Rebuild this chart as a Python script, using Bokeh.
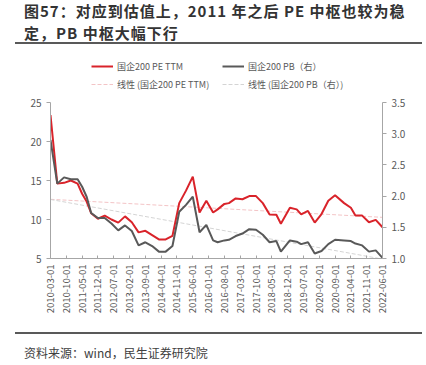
import math
import numpy as np
from bokeh.plotting import figure
from bokeh.layouts import column
from bokeh.models import (Range1d, LinearAxis, FixedTicker, NumeralTickFormatter,
                          Legend, LegendItem, Div)
from bokeh.embed import file_html
from bokeh.resources import INLINE

# ---- data (month offsets from 2010-03) ----
months = [0, 3, 6, 9, 12, 14, 16, 18, 21, 24, 27, 30, 33, 36, 39, 42, 45, 48, 51, 54,
          57, 60, 63, 66, 69, 72, 74, 77, 79, 82, 85, 88, 91, 94, 97, 100, 102, 106,
          109, 111, 114, 117, 120, 123, 126, 130, 133, 135, 138, 141, 144, 147]
pe_ttm = [23.4, 14.6, 14.7, 15.0, 14.6, 13.3, 12.3, 10.8, 10.1, 10.5, 10.0, 9.6, 10.4,
          9.65, 8.35, 8.55, 8.0, 7.45, 7.45, 7.9, 12.1, 13.7, 15.5, 10.9, 12.4, 10.9,
          11.3, 12.0, 12.1, 12.7, 12.6, 13.0, 13.0, 12.1, 10.65, 10.6, 9.45, 11.5, 11.3,
          10.65, 11.1, 9.6, 10.7, 12.4, 13.1, 12.1, 11.5, 10.5, 10.5, 9.65, 9.95, 9.0]
pb = [2.9, 2.2, 2.3, 2.27, 2.27, 2.15, 1.99, 1.73, 1.65, 1.65, 1.56, 1.45, 1.53, 1.44,
      1.21, 1.26, 1.2, 1.11, 1.11, 1.2, 1.75, 1.86, 1.99, 1.42, 1.54, 1.29, 1.26, 1.29,
      1.30, 1.36, 1.40, 1.47, 1.46, 1.38, 1.26, 1.28, 1.11, 1.29, 1.27, 1.23, 1.26, 1.08,
      1.12, 1.23, 1.30, 1.29, 1.28, 1.24, 1.21, 1.11, 1.13, 1.01]
tick_months = [0, 7, 14, 21, 28, 35, 42, 49, 56, 63, 70, 77, 84, 91, 98, 105, 112, 119,
               126, 133, 140, 147]
tick_labels = ["2010-03-01", "2010-10-01", "2011-05-01", "2011-12-01", "2012-07-01",
               "2013-02-01", "2013-09-01", "2014-04-01", "2014-11-01", "2015-06-01",
               "2016-01-01", "2016-08-01", "2017-03-01", "2017-10-01", "2018-05-01",
               "2018-12-01", "2019-07-01", "2020-02-01", "2020-09-01", "2021-04-01",
               "2021-11-01", "2022-06-01"]
left_ticks = [5, 10, 15, 20, 25]
right_ticks = [1.0, 1.5, 2.0, 2.5, 3.0, 3.5]

FONT = "Noto Sans CJK SC"
RED = "#d9232a"
GREY = "#595959"
AXIS = "#a6a6a6"
TXT = "#595959"

title_style = ("position:absolute;left:24px;width:402px;white-space:nowrap;"
               "font-family:'Noto Sans CJK SC';font-weight:bold;font-size:15px;"
               "letter-spacing:1px;line-height:22px;color:#333333;")
title_html = (
    '<div style="position:relative;width:426px;height:46px;">'
    f'<div style="{title_style}top:0px;">图57：对应到估值上，2011 年之后 PE 中枢也较为稳</div>'
    f'<div style="{title_style}top:22px;">定，PB 中枢大幅下行</div>'
    '<div style="position:absolute;left:15px;top:42px;width:407px;height:2px;'
    'background:#595959;"></div></div>'
)
source_html = (
    '<div style="position:relative;width:426px;height:35px;">'
    '<div style="position:absolute;left:15px;top:2px;width:407px;height:2px;'
    'background:#595959;"></div>'
    '<div style="position:absolute;left:24px;top:15px;'
    "font-family:'Noto Sans CJK SC';font-size:12px;line-height:16px;color:#404040;"
    'white-space:nowrap;">资料来源：wind，民生证券研究院</div></div>'
)
title_div = Div(text=title_html, width=426, height=46, margin=(0, 0, 0, 0))
source_div = Div(text=source_html, width=426, height=35, margin=(0, 0, 0, 0))

# frame extends above the 25 line to hold the legend; axes are bounded to the data span
FRAME_H = 202
AXIS_H = 156
pe_top = 5 + 20 * FRAME_H / AXIS_H
pb_top = 1.0 + 2.5 * FRAME_H / AXIS_H

p = figure(width=426, height=284, x_range=Range1d(0, 147), y_range=Range1d(5, pe_top),
           output_backend="svg", toolbar_location=None, margin=(0, 0, 0, 0),
           min_border_left=50, min_border_right=44, min_border_top=10, min_border_bottom=72)
p.extra_y_ranges = {"pb": Range1d(1.0, pb_top)}
p.xgrid.visible = False
p.ygrid.visible = False
p.outline_line_color = None
p.background_fill_color = "white"
p.border_fill_color = "white"

# axes
xa = p.xaxis[0]
xa.ticker = FixedTicker(ticks=tick_months)
xa.major_label_overrides = {m: l for m, l in zip(tick_months, tick_labels)}
xa.major_label_orientation = math.pi / 2
xa.minor_tick_line_color = None
xa.major_tick_in = 3
xa.major_tick_out = 0

ya = p.yaxis[0]
ya.ticker = FixedTicker(ticks=left_ticks)
ya.bounds = (5, 25)
ya.minor_tick_line_color = None
ya.major_tick_in = 0
ya.major_tick_out = 4

ra = LinearAxis(y_range_name="pb", bounds=(1.0, 3.5))
ra.ticker = FixedTicker(ticks=right_ticks)
ra.formatter = NumeralTickFormatter(format="0.0")
ra.minor_tick_line_color = None
ra.major_tick_in = 0
ra.major_tick_out = 4
p.add_layout(ra, "right")

for ax in (xa, ya, ra):
    ax.axis_line_color = AXIS
    ax.major_tick_line_color = AXIS
    ax.major_label_text_color = TXT
    ax.major_label_text_font = FONT
    ax.major_label_text_font_size = "10px"
    ax.major_label_standoff = 5
xa.major_label_text_font_size = "9.5px"
xa.major_label_standoff = 6

# trend lines (linear fits of the data)
m_arr = np.array(months, dtype=float)
pe_fit = np.polyfit(m_arr, np.array(pe_ttm), 1)
pb_fit = np.polyfit(m_arr, np.array(pb), 1)
ends = [months[0], months[-1]]
r_tpe = p.line(ends, list(np.polyval(pe_fit, ends)), line_color="#f3c4c6",
               line_width=1, line_dash="4 2")
r_tpb = p.line(ends, list(np.polyval(pb_fit, ends)), y_range_name="pb",
               line_color="#d4d4d4", line_width=1, line_dash="4 2")

r_pe = p.line(months, pe_ttm, line_color=RED, line_width=2)
r_pb = p.line(months, pb, y_range_name="pb", line_color=GREY, line_width=2)

legend = Legend(items=[
    LegendItem(label="国企200 PE TTM", renderers=[r_pe]),
    LegendItem(label="国企200 PB（右）", renderers=[r_pb]),
    LegendItem(label="线性 (国企200 PE TTM)", renderers=[r_tpe]),
    LegendItem(label="线性 (国企200 PB（右）)", renderers=[r_tpb]),
], location=(41, 167), orientation="horizontal", ncols=2,
    glyph_width=22, glyph_height=14, label_height=14, label_width=101,
    label_standoff=4, spacing=4, padding=0, margin=0,
    border_line_color=None, background_fill_alpha=0,
    label_text_font=FONT, label_text_font_size="9px", label_text_color=TXT)
p.add_layout(legend, "center")

layout = column(title_div, p, source_div, spacing=0, margin=(0, 0, 0, 0))

open("out.html", "w").write(file_html(layout, INLINE))
